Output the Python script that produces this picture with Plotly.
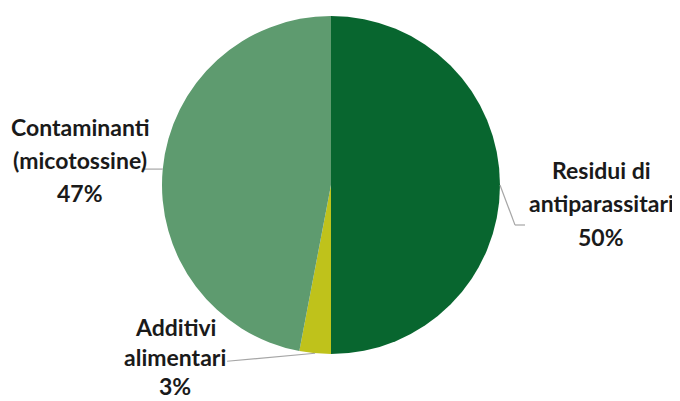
import numpy as np
import plotly.graph_objects as go

labels = ["Residui di antiparassitari", "Additivi alimentari", "Contaminanti (micotossine)"]
values = [50, 3, 47]
colors = ["#08662f", "#bfc21b", "#5e9b6f"]
label_lines = [["Residui di", "antiparassitari", "50%"],
               ["Additivi", "alimentari", "3%"],
               ["Contaminanti", "(micotossine)", "47%"]]

W, H = 680, 401
OFF = 8  # page body margin offset
cx, cy, r = 331 - OFF, 185 - OFF, 169

fig = go.Figure(go.Pie(
    labels=labels, values=values, sort=False, direction="clockwise", rotation=0,
    marker=dict(colors=colors, line=dict(width=0)),
    textinfo="none", hoverinfo="skip", showlegend=False,
    domain=dict(x=[(cx - r) / W, (cx + r) / W], y=[1 - (cy + r) / H, 1 - (cy - r) / H]),
))

def px(x, y):
    return x / W, 1 - y / H

# mid-angle edge points of each slice (clockwise from 12 o'clock)
vals = np.array(values, dtype=float)
cum = np.cumsum(vals) - vals / 2
ang = cum / vals.sum() * 2 * np.pi
edge = [(cx + r * np.sin(a), cy - r * np.cos(a)) for a in ang]

line_col = "#a6a6a6"
# text block centres (pixels) and leader line paths relative to slice edge
text_pos = [(601, [170, 203, 237]), (175, [327, 357, 386]), (80, [127, 160, 193])]
paths = [
    [(0, 0), (15, 40), (25, 40)],
    [(0, 0), (-88, 8)],
    [(0, 0), (-21, 0)],
]

shapes = []
for (ex, ey), path in zip(edge, paths):
    pts = [(ex + dx, ey + dy) for dx, dy in path]
    for (x0, y0), (x1, y1) in zip(pts[:-1], pts[1:]):
        a0, b0 = px(x0, y0)
        a1, b1 = px(x1, y1)
        shapes.append(dict(type="line", xref="paper", yref="paper", x0=a0, y0=b0, x1=a1, y1=b1,
                           line=dict(color=line_col, width=1.2)))

annotations = []
for lines, (tx, tys) in zip(label_lines, text_pos):
    for t, ty in zip(lines, tys):
        ax, ay = px(tx - OFF, ty - OFF)
        annotations.append(dict(text="<b>%s</b>" % t, x=ax, y=ay, xref="paper", yref="paper",
                                showarrow=False, xanchor="center", yanchor="middle",
                                font=dict(family="Lato", size=23, color="#1a1a1a")))

fig.update_layout(width=W, height=H, margin=dict(l=0, r=0, t=0, b=0),
                  paper_bgcolor="white", plot_bgcolor="white",
                  shapes=shapes, annotations=annotations)
fig.write_html("out.html")
